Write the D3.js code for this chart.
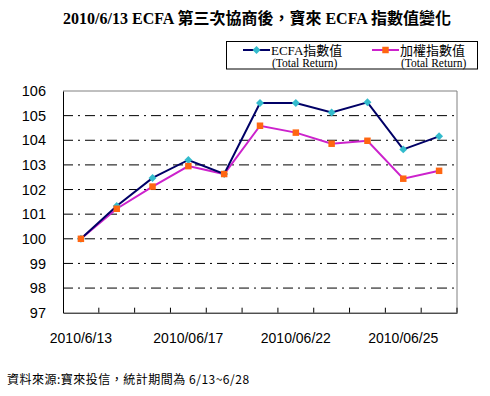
<!DOCTYPE html>
<html>
<head>
<meta charset="utf-8">
<script src="https://cdn.jsdelivr.net/npm/d3@7"></script>
<style>
  body { margin: 0; background: #fff; }
  svg { display: block; }
</style>
</head>
<body>
<div id="chart_area"></div>
<script>
// data
const dates = ['2010/6/13', '2010/06/14', '2010/06/15', '2010/06/17', '2010/06/18',
  '2010/06/21', '2010/06/22', '2010/06/23', '2010/06/24', '2010/06/25', '2010/06/28'];
const ecfaValues = [100.0, 101.33, 102.47, 103.2, 102.63, 105.51, 105.51, 105.13, 105.54, 103.63, 104.16];
const taiexValues = [100.0, 101.22, 102.12, 102.95, 102.63, 104.59, 104.31, 103.86, 103.98, 102.44, 102.76];
const yTicks = [97, 98, 99, 100, 101, 102, 103, 104, 105, 106];
const shownDates = ['2010/6/13', '2010/06/17', '2010/06/22', '2010/06/25'];
const seriesNames = ['ECFA指數值', '加權指數值'];

const width = 490;
const height = 396;
const plot = { left: 63, right: 457, top: 91, bottom: 312.7 };

const svg = d3
  .select('#chart_area')
  .append('svg')
  .attr('width', width)
  .attr('height', height);

svg.append('rect').attr('width', width).attr('height', height).attr('fill', '#fff');

const x = d3.scaleBand().domain(dates).range([plot.left, plot.right]);
const y = d3.scaleLinear().domain([97, 106]).range([plot.bottom, plot.top]);

// title
svg
  .append('text')
  .attr('x', 257)
  .attr('y', 24)
  .attr('text-anchor', 'middle')
  .attr('font-family', '"Liberation Serif", "Noto Sans CJK TC", serif')
  .attr('font-weight', 'bold')
  .attr('font-size', 16)
  .text('2010/6/13 ECFA 第三次協商後，寶來 ECFA 指數值變化');

// gridlines (dash-dot)
svg
  .append('g')
  .selectAll('line')
  .data(yTicks.filter((d) => d > 97 && d < 106))
  .join('line')
  .attr('x1', plot.left)
  .attr('x2', plot.right)
  .attr('y1', (d) => y(d))
  .attr('y2', (d) => y(d))
  .attr('stroke', '#000')
  .attr('stroke-width', 1)
  .attr('stroke-dasharray', '10,5,2,5');

// frame: top/right grey, left/bottom black
svg.append('line')
  .attr('x1', plot.left).attr('x2', plot.right)
  .attr('y1', plot.top).attr('y2', plot.top)
  .attr('stroke', '#808080');
svg.append('line')
  .attr('x1', plot.right).attr('x2', plot.right)
  .attr('y1', plot.top).attr('y2', plot.bottom)
  .attr('stroke', '#808080');

// y axis
const yAxis = svg
  .append('g')
  .attr('transform', `translate(${plot.left},0)`)
  .call(d3.axisLeft(y).tickValues(yTicks).tickSize(0).tickPadding(17).tickFormat(d3.format('d')));
yAxis.select('.domain').attr('stroke', '#000');
yAxis.selectAll('text')
  .attr('font-family', '"Liberation Sans", Arial, sans-serif')
  .attr('font-size', 14.5)
  .attr('fill', '#000');

// x axis
const xAxis = svg
  .append('g')
  .attr('transform', `translate(0,${plot.bottom})`)
  .call(d3.axisBottom(x).tickValues(shownDates).tickSize(0).tickPadding(20));
xAxis.select('.domain').attr('stroke', '#000');
xAxis.selectAll('text')
  .attr('font-family', '"Liberation Sans", Arial, sans-serif')
  .attr('font-size', 14)
  .attr('fill', '#000');

// category boundary ticks, pointing up
svg
  .append('g')
  .selectAll('line')
  .data(dates.slice(1).concat(['end']))
  .join('line')
  .attr('x1', (d) => (d === 'end' ? plot.right : x(d)))
  .attr('x2', (d) => (d === 'end' ? plot.right : x(d)))
  .attr('y1', plot.bottom)
  .attr('y2', plot.bottom - 5)
  .attr('stroke', '#000');

const cx = (d, i) => x(dates[i]) + x.bandwidth() / 2;
const line = d3
  .line()
  .x((d, i) => cx(d, i))
  .y((d) => y(d));

const diamond = d3.symbol().type(d3.symbolDiamond2).size(40);
const square = d3.symbol().type(d3.symbolSquare).size(42);

// weighted index
svg.append('path')
  .datum(taiexValues)
  .attr('d', line)
  .attr('fill', 'none')
  .attr('stroke', '#cc22cc')
  .attr('stroke-width', 2);

// ECFA index
svg.append('path')
  .datum(ecfaValues)
  .attr('d', line)
  .attr('fill', 'none')
  .attr('stroke', '#000066')
  .attr('stroke-width', 2);

svg.append('g')
  .selectAll('path')
  .data(ecfaValues)
  .join('path')
  .attr('transform', (d, i) => `translate(${cx(d, i)},${y(d)})`)
  .attr('d', diamond)
  .attr('fill', '#33bbcc');

svg.append('g')
  .selectAll('path')
  .data(taiexValues)
  .join('path')
  .attr('transform', (d, i) => `translate(${cx(d, i)},${y(d)})`)
  .attr('d', square)
  .attr('fill', '#ff6611');

// legend
const legend = svg.append('g');
legend.append('rect')
  .attr('x', 226.5).attr('y', 41.5)
  .attr('width', 251).attr('height', 27.5)
  .attr('fill', '#fff')
  .attr('stroke', '#000');

const legendItems = [
  { name: seriesNames[0], x0: 243, color: '#000066', marker: diamond, markerColor: '#33bbcc', tx: 271 },
  { name: seriesNames[1], x0: 372, color: '#cc22cc', marker: square, markerColor: '#ff6611', tx: 400 }
];
legendItems.forEach((it) => {
  legend.append('line')
    .attr('x1', it.x0).attr('x2', it.x0 + 27)
    .attr('y1', 50).attr('y2', 50)
    .attr('stroke', it.color)
    .attr('stroke-width', 2);
  legend.append('path')
    .attr('transform', `translate(${it.x0 + 13.5},50)`)
    .attr('d', it.marker)
    .attr('fill', it.markerColor);
  legend.append('text')
    .attr('x', it.tx).attr('y', 54.5)
    .attr('font-family', '"Liberation Serif", "Noto Sans CJK TC", serif')
    .attr('font-size', 13)
    .text(it.name);
  legend.append('text')
    .attr('x', it.tx + 1).attr('y', 67)
    .attr('font-family', '"Liberation Serif", serif')
    .attr('font-size', 11.5)
    .text('(Total Return)');
});

// source note
svg.append('text')
  .attr('x', 7)
  .attr('y', 384)
  .attr('font-family', '"Noto Sans CJK TC", sans-serif')
  .attr('font-size', 12)
  .attr('letter-spacing', 0.5)
  .text('資料來源:寶來投信，統計期間為 6/13~6/28');
</script>
</body>
</html>
